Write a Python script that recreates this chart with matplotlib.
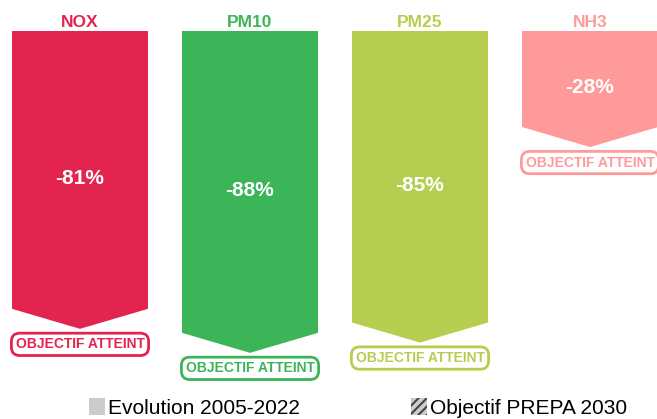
import matplotlib
matplotlib.use("Agg")
import matplotlib.pyplot as plt
from matplotlib.patches import Polygon, Patch

plt.rcParams['font.family'] = ['Liberation Sans', 'DejaVu Sans']
plt.rcParams['hatch.linewidth'] = 1.5

# data
polluants = ['NOX', 'PM10', 'PM25', 'NH3']
evolution = [-81, -88, -85, -28]   # evolution 2005-2022 en %
statut = ['OBJECTIF ATTEINT', 'OBJECTIF ATTEINT', 'OBJECTIF ATTEINT', 'OBJECTIF ATTEINT']
couleurs = ['#e2244f', '#3cb559', '#b5ce4f', '#ff9a9a']
legende = ['Evolution 2005-2022', 'Objectif PREPA 2030']

# layout (pixels -> % units)
W, H = 657, 419
top_px = 31
px_per_pct = 3.43
tip = 20 / px_per_pct
width = 0.8

fig = plt.figure(figsize=(W / 100, H / 100), dpi=100)
ax = fig.add_axes([0, 0, 1, 1])
ax.set_xlim(-80 / 170, (W - 80) / 170)
ax.set_ylim((H - top_px) / px_per_pct, -top_px / px_per_pct)
ax.axis('off')

for i, (name, val, txt, col) in enumerate(zip(polluants, evolution, statut, couleurs)):
    v = abs(val)
    pts = [(i - width / 2, 0), (i + width / 2, 0), (i + width / 2, v),
           (i, v + tip), (i - width / 2, v)]
    ax.add_patch(Polygon(pts, closed=True, facecolor=col, edgecolor='none'))
    ax.text(i, -1.2, name, ha='center', va='baseline', fontsize=12.5,
            fontweight='bold', color=col)
    ax.text(i, v / 2 + 2.5, f'{val}%', ha='center', va='center', fontsize=15,
            fontweight='bold', color='white')
    ax.text(i, v + tip + 15.5 / px_per_pct, txt, ha='center', va='center',
            fontsize=10, fontweight='bold', color=col,
            bbox=dict(boxstyle='round,pad=0.3,rounding_size=0.6', fc='white',
                      ec=col, lw=2))

handles = [Patch(facecolor='#cccccc', edgecolor='none', label=legende[0]),
           Patch(facecolor='#cccccc', edgecolor='#444444', hatch='////',
                 lw=0, label=legende[1])]
fig.legend(handles=handles, loc='center', bbox_to_anchor=(358 / W, 1 - 408 / H),
           ncol=2, frameon=False, fontsize=15, handlelength=0.8,
           handleheight=0.9, handletextpad=0.15, columnspacing=5.3,
           borderpad=0, borderaxespad=0)

fig.savefig('out.png', dpi=100)
